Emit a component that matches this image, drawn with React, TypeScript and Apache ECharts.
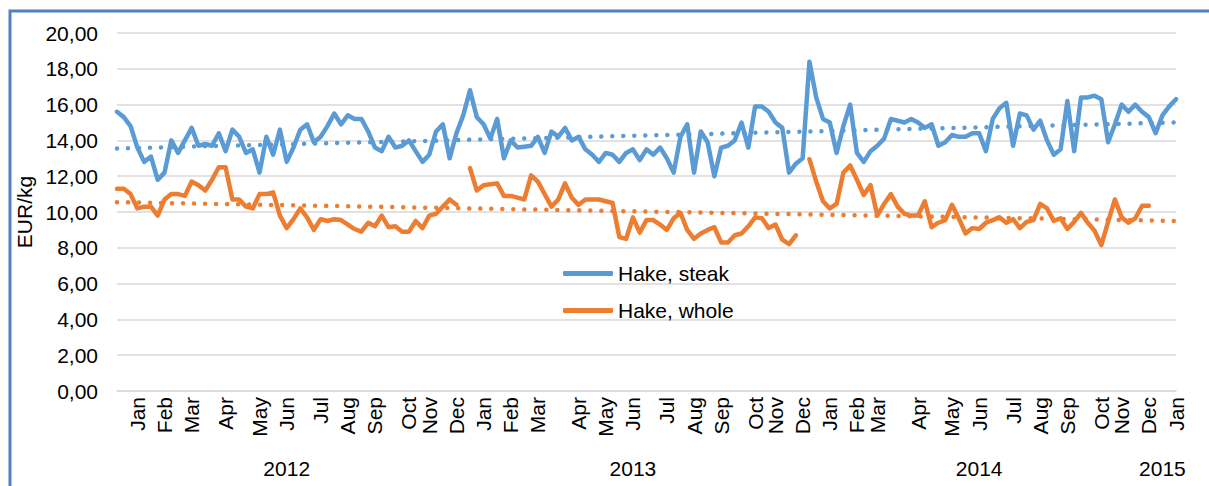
import React, { useEffect, useRef } from 'react';
import * as echarts from 'echarts';

// Weekly prices, EUR/kg (Jan 2012 – Jan 2015)
const hakeSteak: (number | null)[] = [
  15.6, 15.3, 14.8, 13.6, 12.8, 13.1, 11.8, 12.2, 14.0, 13.3,
  14.0, 14.7, 13.7, 13.8, 13.7, 14.4, 13.4, 14.6, 14.2, 13.3,
  13.5, 12.2, 14.2, 13.2, 14.6, 12.8, 13.6, 14.6, 14.9, 13.9,
  14.2, 14.8, 15.5, 14.9, 15.4, 15.2, 15.2, 14.5, 13.6, 13.4,
  14.2, 13.6, 13.7,
  14.0, 13.4, 12.8, 13.2, 14.5, 14.9, 13.0, 14.4, 15.4, 16.8,
  15.3, 14.9, 14.1, 15.2, 13.0, 14.0, 13.6, 13.65, 13.7, 14.2,
  13.3, 14.5, 14.2, 14.7, 14.0, 14.2, 13.5, 13.2, 12.8, 13.3,
  13.2, 12.8, 13.3, 13.5, 12.9, 13.5, 13.2, 13.6, 13.0, 12.2,
  14.2, 14.9, 12.2, 14.5, 13.9, 12.0, 13.6, 13.7, 14.0, 15.0,
  13.6, 15.9, 15.9, 15.6, 15.0, 14.7, 12.2, 12.7, 13.0,
  18.4, 16.4, 15.2, 15.0, 13.3, 14.8, 16.0, 13.3, 12.8, 13.4,
  13.7, 14.1, 15.2, 15.1, 15.0, 15.2, 15.0, 14.7, 14.9, 13.7,
  13.9, 14.3, 14.2, 14.2, 14.4, 14.4, 13.4, 15.2, 15.8, 16.1,
  13.7, 15.5, 15.4, 14.6, 15.1, 14.0, 13.2, 13.5, 16.2, 13.4,
  16.4, 16.4, 16.5, 16.3, 13.9, 14.9, 16.0, 15.6, 16.0, 15.6,
  15.3, 14.4, 15.4, 15.9, 16.3,
];

const hakeWhole: (number | null)[] = [
  11.3, 11.3, 11.0, 10.2, 10.3, 10.3, 9.8, 10.7, 11.0, 11.0,
  10.9, 11.7, 11.5, 11.2, 11.8, 12.5, 12.5, 10.7, 10.7, 10.3,
  10.2, 11.0, 11.0, 11.1, 9.8, 9.1, 9.6, 10.2, 9.7, 9.0,
  9.6, 9.5, 9.6, 9.55, 9.3, 9.05, 8.9, 9.4, 9.2, 9.8,
  9.15, 9.2, 8.9,
  8.9, 9.5, 9.1, 9.8, 9.9, 10.3, 10.7, 10.4,
  null,
  12.45, 11.2, 11.5, 11.55, 11.6, 10.9, 10.9, 10.8, 10.7, 12.05,
  11.7, 11.0, 10.3, 10.7, 11.6, 10.8, 10.4, 10.7, 10.7, 10.7,
  10.6, 10.5, 8.6, 8.5, 9.7, 8.85, 9.55, 9.55, 9.3, 9.0,
  9.65, 9.95, 9.0, 8.5, 8.8, 9.0, 9.15, 8.3, 8.3, 8.7,
  8.8, 9.2, 9.7, 9.65, 9.1, 9.3, 8.45, 8.2, 8.7,
  null,
  12.95, 11.7, 10.6, 10.2, 10.45, 12.2, 12.6, 11.8, 10.95, 11.5,
  9.8, 10.45, 11.0, 10.3, 9.9, 9.8, 9.8, 10.6, 9.15, 9.4,
  9.55, 10.4, 9.65, 8.8, 9.1, 9.05, 9.4, 9.55, 9.7, 9.4,
  9.6, 9.1, 9.45, 9.55, 10.45, 10.2, 9.5, 9.65, 9.05, 9.45,
  9.95, 9.4, 8.95, 8.15, 9.45, 10.7, 9.7, 9.4, 9.65, 10.35,
  10.35,
  null, null, null, null,
];

// Linear trend end values (start, end)
const trendSteak = [13.55, 15.0];
const trendWhole = [10.55, 9.5];

// Month tick labels and the week they fall on
const monthNames = [
  'Jan', 'Feb', 'Mar', 'Apr', 'May', 'Jun', 'Jul', 'Aug', 'Sep', 'Oct', 'Nov', 'Dec',
  'Jan', 'Feb', 'Mar', 'Apr', 'May', 'Jun', 'Jul', 'Aug', 'Sep', 'Oct', 'Nov', 'Dec',
  'Jan', 'Feb', 'Mar', 'Apr', 'May', 'Jun', 'Jul', 'Aug', 'Sep', 'Oct', 'Nov', 'Dec',
  'Jan',
];
const monthWeek = [
  3, 7, 11, 16, 21, 25, 30, 34, 38, 43, 46, 50,
  54, 58, 62, 68, 72, 76, 81, 85, 89, 94, 97, 101,
  105, 109, 112, 118, 123, 127, 132, 136, 140, 145, 148, 152,
  156,
];
const yearNames = ['2012', '2013', '2014', '2015'];
const yearWeek = [25, 76, 127, 154];

const yTicks = { min: 0, max: 20, interval: 2 };

const FONT = "Arial, 'Liberation Sans', sans-serif";
const FS = 21;
const BLUE = '#5B9BD5';
const ORANGE = '#ED7D31';

export default function App() {
  const ref = useRef<HTMLDivElement>(null);
  useEffect(() => {
    if (!ref.current) return;
    const chart = echarts.init(ref.current, undefined, { renderer: 'svg' });
    const n = hakeSteak.length;
    const monthCats: string[] = new Array(n).fill('');
    monthWeek.forEach((w, i) => { monthCats[w] = monthNames[i]; });
    const yearCats: string[] = new Array(n).fill('');
    yearWeek.forEach((w, i) => { yearCats[w] = yearNames[i]; });

    chart.setOption({
      animation: false,
      textStyle: { fontFamily: FONT },
      graphic: [
        {
          type: 'rect',
          silent: true,
          shape: { x: 10, y: 11, width: 1400, height: 800 },
          style: { fill: 'none', stroke: '#4F81BD', lineWidth: 3 },
        },
      ],
      grid: { left: 117, right: 33, top: 33, bottom: 95 },
      legend: {
        data: [
          { name: 'Hake, steak', icon: 'roundRect' },
          { name: 'Hake, whole', icon: 'roundRect' },
        ],
        orient: 'vertical',
        left: 558,
        top: 258,
        itemWidth: 50,
        itemHeight: 5,
        itemGap: 16,
        textStyle: { fontSize: FS, color: '#000', fontFamily: FONT },
      },
      xAxis: [
        {
          type: 'category',
          data: monthCats.map((_, i) => String(i)),
          boundaryGap: false,
          axisTick: { show: false },
          axisLine: { lineStyle: { color: '#D9D9D9', width: 1.5 } },
          axisLabel: {
            interval: 0,
            rotate: 90,
            fontSize: FS,
            color: '#000',
            margin: 6,
            formatter: (v: string) => monthCats[Number(v)] || '',
          },
          splitLine: { show: false },
        },
        {
          type: 'category',
          data: yearCats.map((_, i) => String(i)),
          boundaryGap: false,
          position: 'bottom',
          axisTick: { show: false },
          axisLine: { show: false },
          axisLabel: {
            interval: 0,
            fontSize: FS,
            color: '#000',
            margin: 67,
            formatter: (v: string) => yearCats[Number(v)] || '',
          },
        },
      ],
      yAxis: {
        type: 'value',
        min: yTicks.min,
        max: yTicks.max,
        interval: yTicks.interval,
        name: 'EUR/kg',
        nameLocation: 'middle',
        nameGap: 76,
        nameTextStyle: { fontSize: FS, color: '#000' },
        axisLabel: {
          fontSize: FS,
          color: '#000',
          margin: 19,
          formatter: (v: number) => v.toFixed(2).replace('.', ','),
        },
        axisLine: { show: false },
        axisTick: { show: false },
        splitLine: { lineStyle: { color: '#D9D9D9', width: 1.5 } },
      },
      series: [
        {
          name: 'Hake, whole',
          type: 'line',
          data: hakeWhole,
          symbol: 'none',
          lineStyle: { color: ORANGE, width: 4.5, join: 'round', cap: 'round' },
          itemStyle: { color: ORANGE },
          z: 2,
        },
        {
          name: 'Hake, steak',
          type: 'line',
          data: hakeSteak,
          symbol: 'none',
          lineStyle: { color: BLUE, width: 4.5, join: 'round', cap: 'round' },
          itemStyle: { color: BLUE },
          z: 3,
        },
        {
          name: 'trend steak',
          type: 'line',
          data: [[0, trendSteak[0]], [n - 1, trendSteak[1]]],
          symbol: 'none',
          lineStyle: { color: BLUE, width: 4.5, type: [0.01, 11], cap: 'round' },
          z: 4,
        },
        {
          name: 'trend whole',
          type: 'line',
          data: [[0, trendWhole[0]], [n - 1, trendWhole[1]]],
          symbol: 'none',
          lineStyle: { color: ORANGE, width: 4.5, type: [0.01, 11], cap: 'round' },
          z: 4,
        },
      ],
    });
    return () => chart.dispose();
  }, []);
  return (
    <div
      ref={ref}
      style={{ position: 'absolute', left: 0, top: 0, width: 1209, height: 486, background: '#fff' }}
    />
  );
}
